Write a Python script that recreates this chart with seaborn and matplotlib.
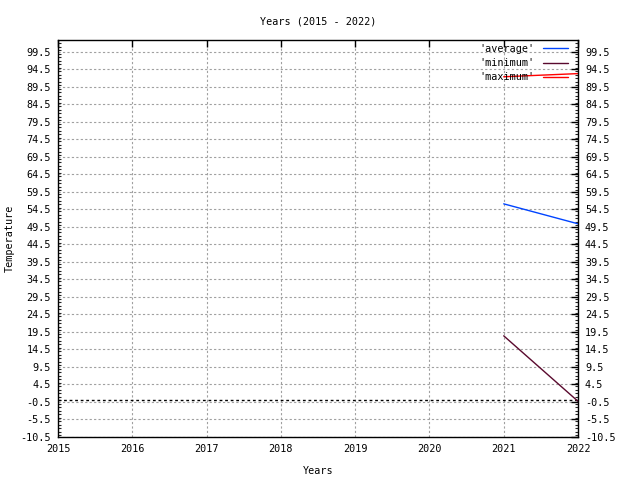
import numpy as np
import pandas as pd
import matplotlib
matplotlib.use('Agg')
import matplotlib.pyplot as plt
import seaborn as sns
from matplotlib.ticker import MultipleLocator

# data
years = [2021, 2022]
average = [56.1, 50.4]
minimum = [18.4, -0.3]
maximum = [92.4, 93.3]

series_names = ["'average'", "'minimum'", "'maximum'"]
colors = ['#0044ff', '#5a0a2e', '#ff0000']

df = pd.DataFrame({
    'year': years * 3,
    'value': average + minimum + maximum,
    'series': [series_names[0]] * 2 + [series_names[1]] * 2 + [series_names[2]] * 2,
})

sns.set_style('white')
plt.rcParams['font.family'] = ['DejaVu Sans Mono']
plt.rcParams['font.size'] = 7.3
plt.rcParams['text.color'] = 'black'
plt.rcParams['axes.labelcolor'] = 'black'

fig = plt.figure(figsize=(6.4, 4.8), dpi=100)
ax = fig.add_axes([58 / 640, 43 / 480, 520 / 640, 397 / 480])

sns.lineplot(data=df, x='year', y='value', hue='series', palette=colors,
             hue_order=series_names, linewidth=1.0, ax=ax)

# zero axis
ax.axhline(0, color='black', linestyle=(0, (2, 2)), linewidth=1.0, zorder=1)

ax.set_xlim(2015, 2022)
ax.set_ylim(-10.5, 102.9)
ax.set_xticks(range(2015, 2023))
yt = np.arange(-10.5, 100, 5)
ax.set_yticks(yt)
ax.set_yticklabels([f'{v:g}' for v in yt])
ax.yaxis.set_minor_locator(MultipleLocator(1))
ax.grid(True, which='major', color='#a0a0a0', linestyle=(0, (2, 2)), linewidth=0.8)
ax.set_axisbelow(True)

ax.tick_params(axis='both', which='major', direction='in', length=5, width=1,
               top=True, right=True, labelright=True, labelsize=7.3,
               colors='black', pad=5)
ax.tick_params(axis='y', which='minor', direction='in', length=2.5, width=0.8,
               left=True, right=True)
for s in ax.spines.values():
    s.set_color('black')
    s.set_linewidth(1.0)

ax.set_xlabel('Years', fontsize=7.3, labelpad=9)
ax.set_ylabel('Temperature', fontsize=7.3)
ax.set_title('Years (2015 - 2022)', fontsize=7.3, pad=11)

leg = ax.legend(loc='upper right', bbox_to_anchor=(0.98, 0.99), frameon=False,
                markerfirst=False, handlelength=2.4, handletextpad=0.9,
                borderaxespad=0, borderpad=0, labelspacing=0.42,
                fontsize=7.3, title=None)

fig.savefig('out.png', dpi=100)
